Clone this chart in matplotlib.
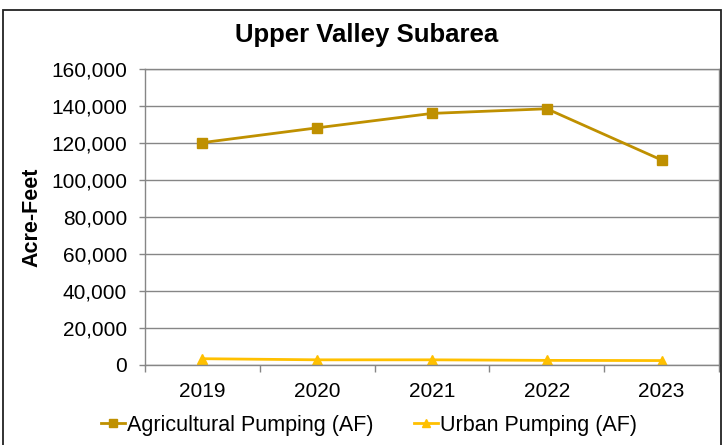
"""
Upper Valley Subarea - annual groundwater pumping (AF), 2019-2023.
Excel-style line chart with square / triangle markers.
"""

import matplotlib
matplotlib.use("Agg")
import matplotlib.pyplot as plt
import matplotlib.patches as patches
from matplotlib.ticker import FuncFormatter, FixedLocator

plt.rcParams.update({
    'font.family': ['Liberation Sans', 'DejaVu Sans'],
})

# ---------------------------------------------------------------
# data
# ---------------------------------------------------------------
years = ['2019', '2020', '2021', '2022', '2023']
ag_pumping = [120200, 128200, 136000, 138500, 110800]
urban_pumping = [3400, 2800, 2800, 2500, 2400]

ag_color = '#BF9000'
urban_color = '#FFC000'
grid_color = '#868686'

fig = plt.figure(figsize=(7.24, 4.45), dpi=100)
ax = fig.add_axes([145 / 724, 1 - 365 / 445, 574 / 724, 296 / 445])

x = list(range(len(years)))
ax.plot(x, ag_pumping, color=ag_color, linewidth=2, marker='s',
        markersize=6.5, label='Agricultural Pumping (AF)')
ax.plot(x, urban_pumping, color=urban_color, linewidth=2, marker='^',
        markersize=7, label='Urban Pumping (AF)')

ax.set_xlim(-0.5, len(years) - 0.5)
ax.set_ylim(0, 160000)
ax.set_yticks(range(0, 160001, 20000))
ax.yaxis.set_major_formatter(FuncFormatter(lambda v, p: f"{int(v):,}"))
ax.set_xticks(x)
ax.set_xticklabels(years)
ax.xaxis.set_minor_locator(FixedLocator([i - 0.5 for i in range(len(years) + 1)]))

ax.grid(axis='y', color=grid_color, linewidth=1)
ax.set_axisbelow(True)
for s in ax.spines.values():
    s.set_color(grid_color)
    s.set_linewidth(1)

ax.tick_params(axis='y', direction='out', length=4, width=1, color=grid_color,
               labelsize=15, pad=9)
ax.tick_params(axis='x', which='major', length=0, labelsize=15, pad=12)
ax.tick_params(axis='x', which='minor', direction='out', length=5, width=1,
               color=grid_color)

ax.set_ylabel('Acre-Feet', fontsize=15.5, fontweight='bold')
ax.yaxis.set_label_coords(-103 / 574, 0.5)

fig.text(367 / 724, 1 - 35 / 445, 'Upper Valley Subarea', ha='center',
         va='center', fontsize=18.5, fontweight='bold')

fig.legend(loc='center', bbox_to_anchor=(369 / 724, 1 - 425 / 445), ncol=2,
           frameon=False, fontsize=15.5, handlelength=1.1, handletextpad=0.1,
           columnspacing=1.9, borderaxespad=0, markerscale=0.8)

# outer chart frame
fig.patches.append(patches.Rectangle((3 / 724, -0.05), 718 / 724, 1 - 10 / 445 + 0.05,
                                     transform=fig.transFigure, fill=False,
                                     edgecolor='#222222', linewidth=1.3))

fig.savefig('out.png', dpi=100)
